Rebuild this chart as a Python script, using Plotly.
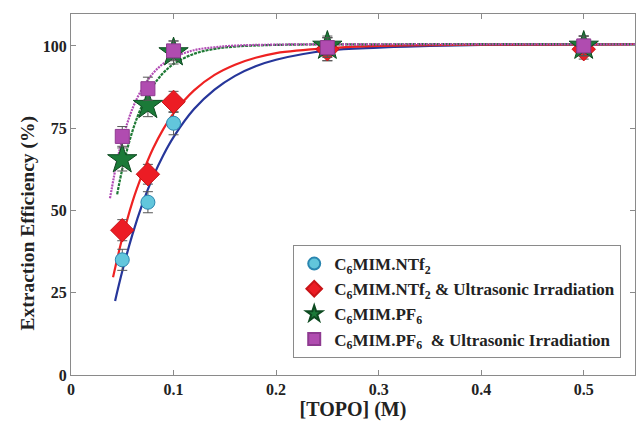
import plotly.graph_objects as go

# ---- measured data points ----
topo = [0.05, 0.075, 0.1, 0.25, 0.5]
ntf2 = [35.0, 52.5, 76.5, 99.0, 100.0]
ntf2_us = [44.0, 61.0, 83.0, 99.0, 99.0]
pf6 = [65.5, 82.0, 98.0, 100.0, 100.0]
pf6_us = [72.5, 87.0, 98.5, 99.5, 100.0]
err_ntf2 = [3.2, 3.2, 3.5, 3.5, 3.0]
err_ntf2_us = [3.2, 3.0, 3.2, 3.5, 3.0]
err_pf6 = [3.5, 3.5, 3.5, 3.0, 3.0]
err_pf6_us = [3.0, 3.5, 3.0, 3.0, 3.0]

# ---- fitted curves ----
fit_x_ntf2 = [0.043, 0.05, 0.06, 0.07, 0.08, 0.09, 0.1, 0.12, 0.14, 0.16, 0.18, 0.2, 0.25, 0.3, 0.35, 0.4, 0.55]
fit_y_ntf2 = [22.5, 31.5, 42.8, 52.3, 60.2, 66.8, 72.3, 80.8, 86.7, 90.9, 93.8, 95.8, 98.6, 99.5, 100.0, 100.3, 100.5]
fit_x_ntf2_us = [0.041, 0.05, 0.06, 0.07, 0.08, 0.09, 0.1, 0.12, 0.14, 0.16, 0.18, 0.2, 0.25, 0.3, 0.4, 0.55]
fit_y_ntf2_us = [29.7, 41.6, 52.7, 61.4, 68.8, 74.7, 79.5, 86.5, 91.2, 94.3, 96.4, 97.8, 99.3, 100.0, 100.4, 100.5]
fit_x_pf6 = [0.045, 0.05, 0.06, 0.07, 0.08, 0.09, 0.1, 0.12, 0.14, 0.16, 0.2, 0.3, 0.55]
fit_y_pf6 = [54.9, 62.5, 74.2, 82.3, 87.9, 91.8, 94.5, 97.6, 99.1, 99.8, 100.3, 100.5, 100.5]
fit_x_pf6_us = [0.038, 0.045, 0.05, 0.06, 0.07, 0.08, 0.09, 0.1, 0.12, 0.14, 0.16, 0.2, 0.3, 0.55]
fit_y_pf6_us = [53.7, 65.1, 71.4, 81.0, 87.3, 91.7, 94.6, 96.5, 98.7, 99.6, 100.1, 100.4, 100.5, 100.5]

names = [
    "C<sub>6</sub>MIM.NTf<sub>2</sub>",
    "C<sub>6</sub>MIM.NTf<sub>2</sub> & Ultrasonic Irradiation",
    "C<sub>6</sub>MIM.PF<sub>6</sub>",
    "C<sub>6</sub>MIM.PF<sub>6</sub>  & Ultrasonic Irradiation",
]
x_ticks = [0, 0.1, 0.2, 0.3, 0.4, 0.5]
x_tick_labels = ["0", "0.1", "0.2", "0.3", "0.4", "0.5"]
y_ticks = [0, 25, 50, 75, 100]
y_tick_labels = ["0", "25", "50", "75", "100"]
x_title = "[TOPO] (M)"
y_title = "Extraction Efficiency (%)"

fig = go.Figure()

curves = [
    (fit_x_ntf2, fit_y_ntf2, "#26369a", "solid"),
    (fit_x_ntf2_us, fit_y_ntf2_us, "#ee2222", "solid"),
    (fit_x_pf6, fit_y_pf6, "#1f7a35", "3px,1px"),
    (fit_x_pf6_us, fit_y_pf6_us, "#b24db5", "2px,1px"),
]
for cx, cy, col, dash in curves:
    fig.add_trace(go.Scatter(x=cx, y=cy, mode="lines", showlegend=False,
                             line=dict(color=col, width=2.2, dash=dash, shape="spline"),
                             hoverinfo="skip"))

series = [
    (ntf2, err_ntf2, "circle", 14, "#62c6dc", "#2a86b0"),
    (ntf2_us, err_ntf2_us, "diamond", 18, "#ec1c24", "#c81418"),
    (pf6, err_pf6, "star", 22, "#1b7a38", "#0d4a20"),
    (pf6_us, err_pf6_us, "square", 14, "#b04cb0", "#8e3a90"),
]
for (vals, errs, sym, size, fill, edge), nm in zip(series, names):
    fig.add_trace(go.Scatter(
        x=topo, y=vals, mode="markers", name=nm,
        marker=dict(symbol=sym, size=size, color=fill, line=dict(color=edge, width=1)),
        error_y=dict(type="data", array=errs, visible=True, color="#555555",
                     thickness=1, width=5),
    ))

font_family = "Liberation Serif, Times New Roman, serif"
fig.update_layout(
    width=636, height=432,
    margin=dict(l=71, r=1, t=14, b=57),
    paper_bgcolor="white", plot_bgcolor="white",
    font=dict(family=font_family, color="#222222"),
    showlegend=True,
    legend=dict(
        x=0.394, y=0.047, xanchor="left", yanchor="bottom",
        bgcolor="white", bordercolor="#8a8a8a", borderwidth=1,
        font=dict(family=font_family, size=17, weight="bold", color="#222222"),
        itemsizing="constant", tracegroupgap=0,
    ),
    annotations=[
        dict(text=y_title, textangle=-90, xref="paper", yref="paper",
             x=-0.076, y=0.42, xanchor="center", yanchor="middle", showarrow=False,
             font=dict(family=font_family, size=19.5, weight="bold", color="#222222")),
    ],
)
fig.update_xaxes(
    range=[0, 0.55], tickvals=x_ticks, ticktext=x_tick_labels,
    showgrid=False, zeroline=False,
    showline=True, linecolor="#8a8a8a", linewidth=1, mirror="ticks",
    ticks="inside", ticklen=5, tickcolor="#8a8a8a",
    tickfont=dict(family=font_family, size=16, weight="bold", color="#222222"),
    title=dict(text=x_title, font=dict(family=font_family, size=20, weight="bold", color="#222222"),
               standoff=2),
)
fig.update_yaxes(
    range=[0, 109.7], tickvals=y_ticks, ticktext=y_tick_labels,
    showgrid=False, zeroline=False,
    showline=True, linecolor="#8a8a8a", linewidth=1, mirror="ticks",
    ticks="inside", ticklen=5, tickcolor="#8a8a8a",
    tickfont=dict(family=font_family, size=16, weight="bold", color="#222222"),
)

fig.write_html("out.html")
